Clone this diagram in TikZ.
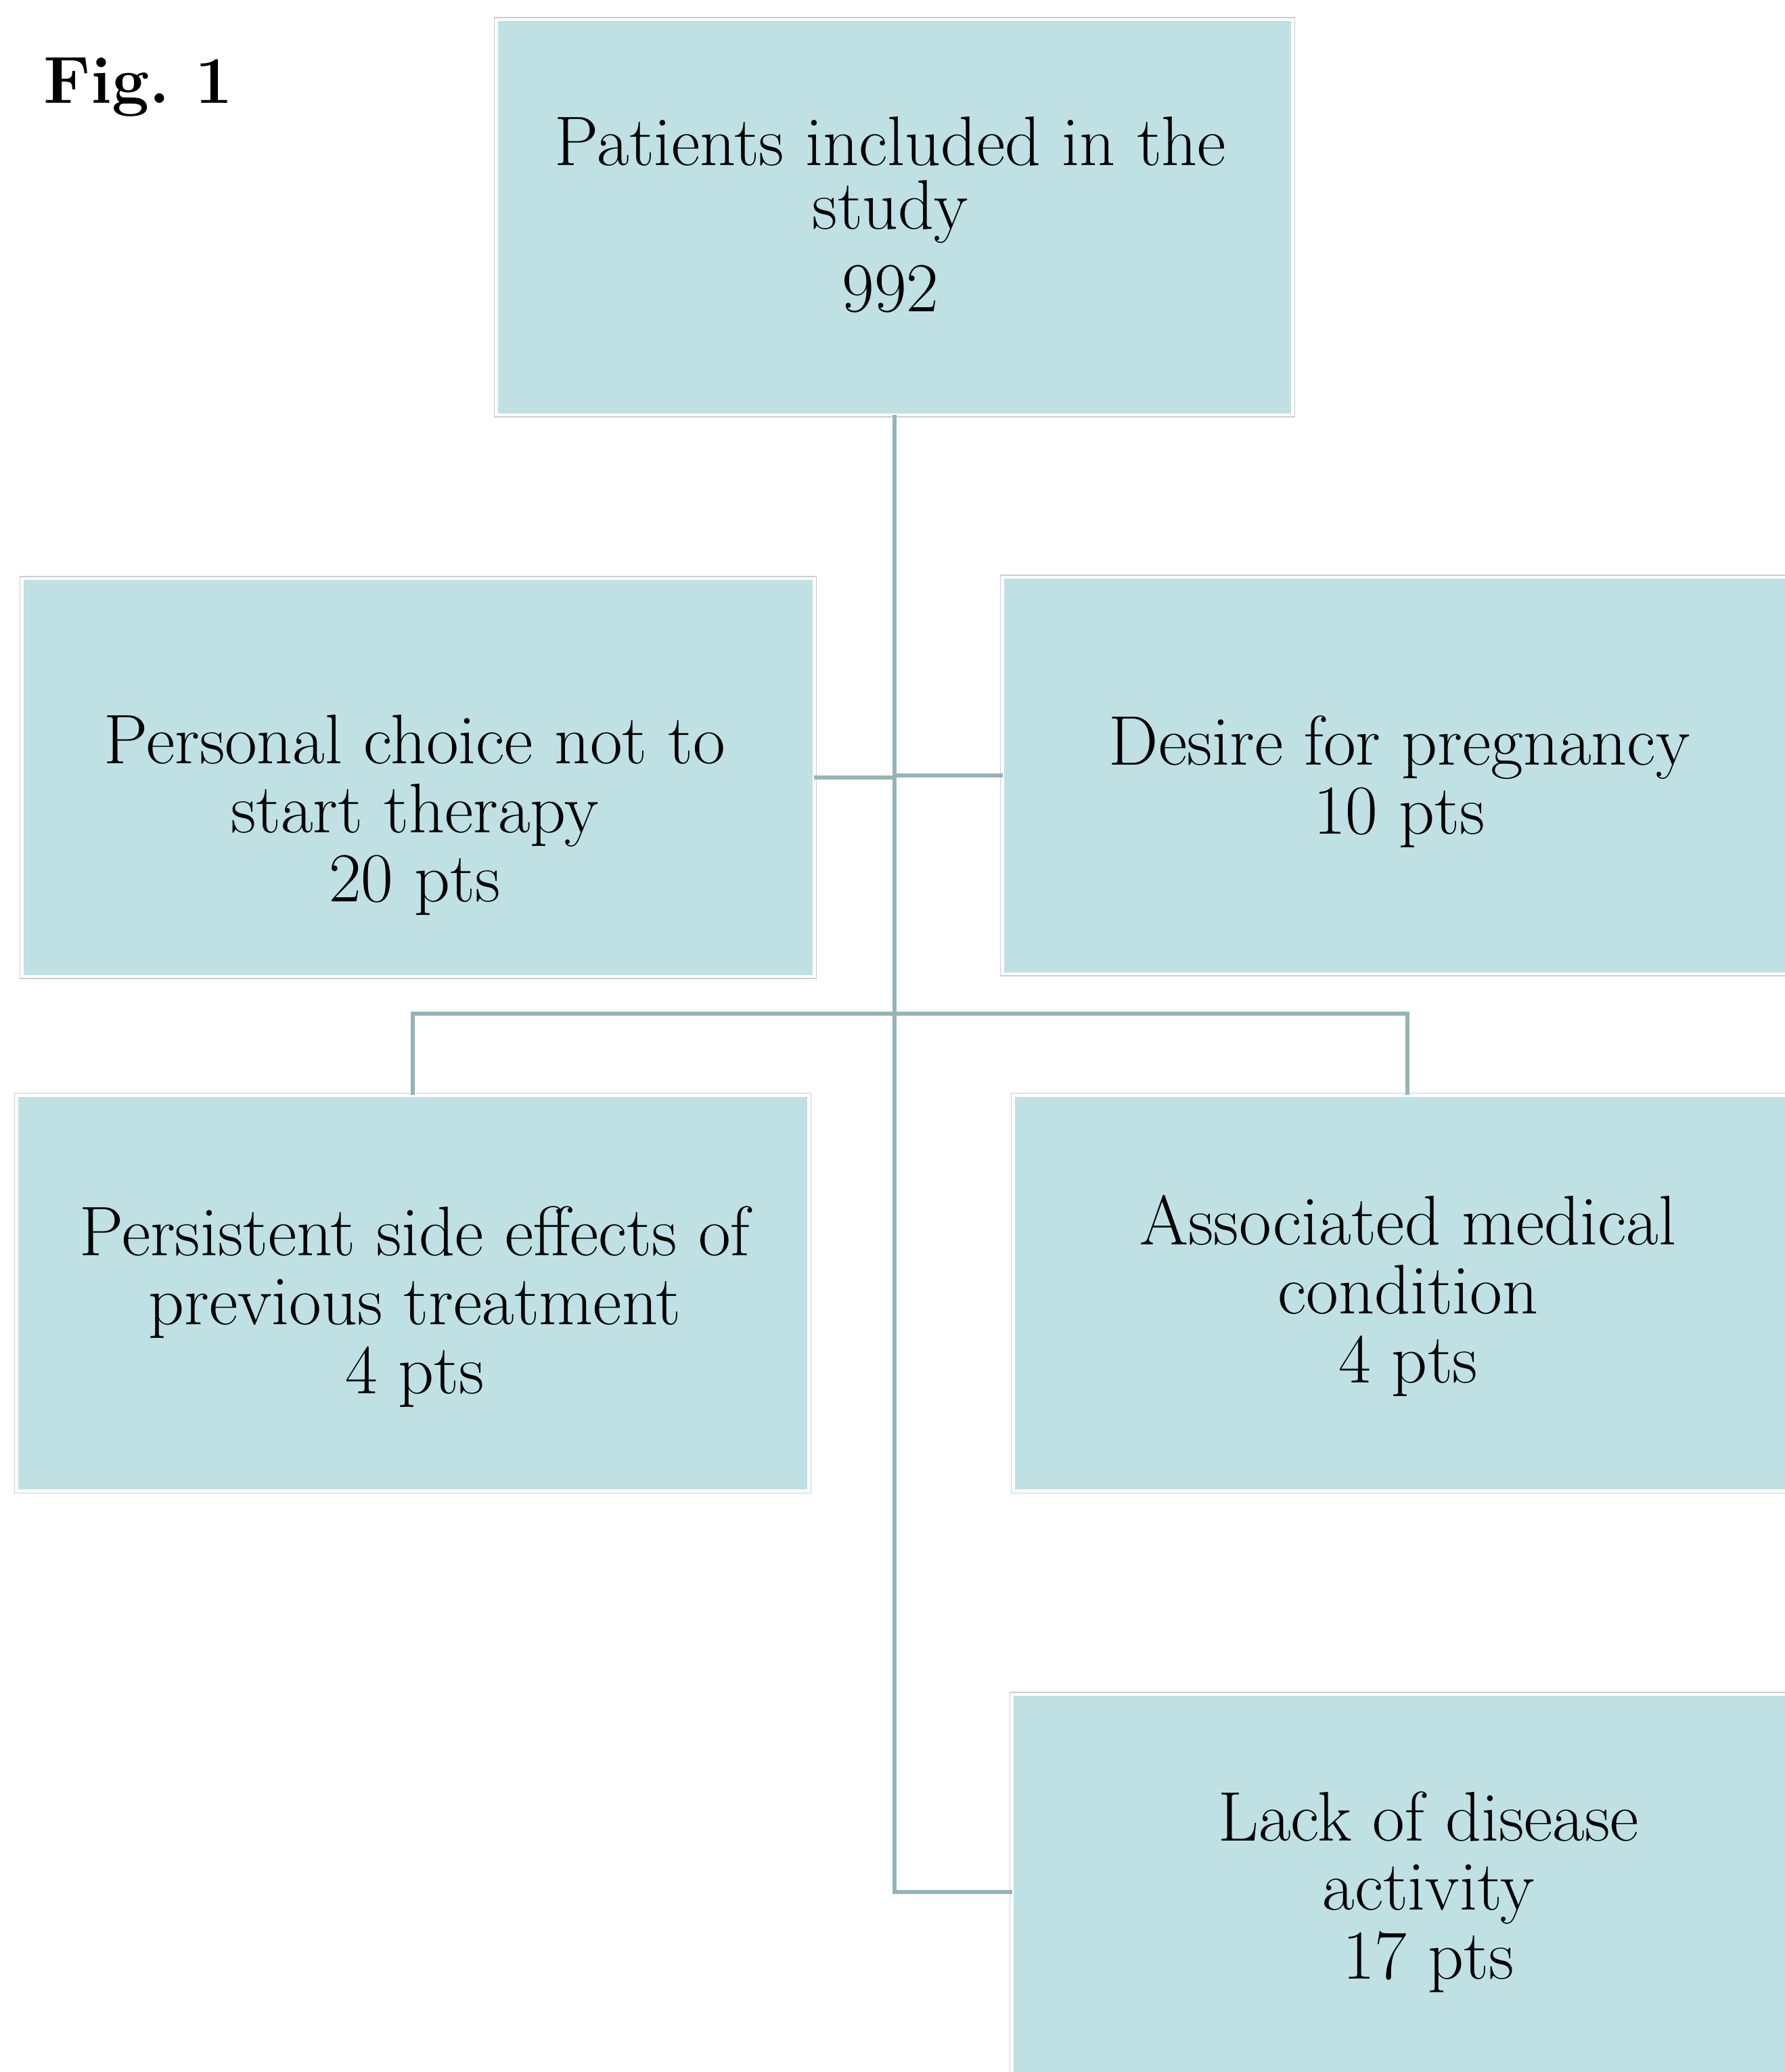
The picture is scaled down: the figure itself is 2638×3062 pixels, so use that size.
\documentclass[tikz,border=0pt]{standalone}
\usetikzlibrary{calc}
\definecolor{boxfill}{RGB}{191,225,227}
\definecolor{linec}{RGB}{150,180,184}
\definecolor{edgec}{RGB}{205,205,205}
\tikzset{
 fbox/.style={rectangle, inner sep=0pt, outer sep=0pt, fill=boxfill, draw=white, line width=0.045cm, preaction={draw=edgec, line width=0.075cm}},
 txt/.style={align=center, inner sep=0pt, font=\fontsize{29.5}{29}\selectfont},
 conn/.style={draw=linec, line width=0.06cm}
}
\begin{document}
\begin{tikzpicture}[x=0.01cm,y=-0.01cm]
\useasboundingbox (0,0) rectangle (2638,3062);
\clip (0,0) rectangle (2638,3062);
\fill[white] (0,0) rectangle (2638,3062);
% boxes
\node[fbox, minimum width=11.76cm, minimum height=5.84cm] (top) at (1322,321) {};
\node[fbox, minimum width=11.70cm, minimum height=5.88cm] (pc) at (618,1149) {};
\node[fbox, minimum width=11.72cm, minimum height=5.86cm] (dp) at (2068,1146) {};
\node[fbox, minimum width=11.70cm, minimum height=5.85cm] (ps) at (610,1911) {};
\node[fbox, minimum width=11.64cm, minimum height=5.85cm] (am) at (2080,1911) {};
\node[fbox, minimum width=11.64cm, minimum height=5.84cm] (ld) at (2078,2796) {};
% connectors
\coordinate (busL) at (610,1498);
\coordinate (busR) at (2080,1498);
\draw[conn] (top.south) |- (pc.east);
\draw[conn] (top.south) |- (dp.west);
\draw[conn] (top.south) |- (busL) -- (ps.north);
\draw[conn] (top.south) |- (busR) -- (am.north);
\draw[conn] (top.south) |- (ld.west);
% texts
\node[inner sep=0pt, anchor=base west, font=\bfseries\fontsize{28}{30}\selectfont] (fig) at (64,152) {Fig.~1};
\node[txt, font=\fontsize{29.5}{26.7}\selectfont] (t0) at (1316,317) {Patients included in the\\study\\[8pt]992};
\node[txt] (t1) at (613,1205) {Personal choice not to\\start therapy\\20 pts};
\node[txt] (t2) at (2068,1155) {Desire for pregnancy\\10 pts};
\node[txt] (t3) at (613,1931) {Persistent side effects of\\previous treatment\\4 pts};
\node[txt] (t4) at (2081,1915) {Associated medical\\condition\\4 pts};
\node[txt] (t5) at (2111,2796) {Lack of disease\\activity\\17 pts};
\end{tikzpicture}
\end{document}
